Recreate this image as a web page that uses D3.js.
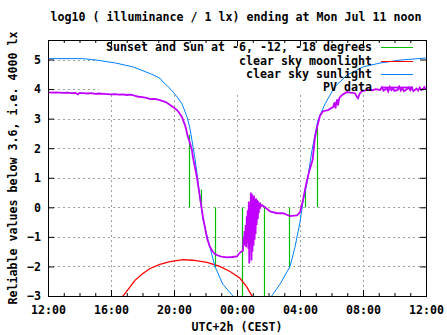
<!DOCTYPE html>
<html>
<head>
<meta charset="utf-8">
<script src="https://cdn.jsdelivr.net/npm/d3@7"></script>
<style>
  html, body { margin: 0; padding: 0; background: #fff; }
  svg text { font-family: "DejaVu Sans Mono", "Liberation Mono", monospace; font-weight: bold; font-size: 12px; fill: #000; }
</style>
</head>
<body>
<svg id="chart" width="447" height="335"></svg>
<script>
// ---------- data ----------
const titleText = "log10 ( illuminance / 1 lx) ending at Mon Jul 11 noon";
const yLabelText = "Reliable values below 3.6, i.e. 4000 lx";
const xLabelText = "UTC+2h (CEST)";

// hours after Sun Jul 10 12:00 (CEST)
const xTickHours = [0, 4, 8, 12, 16, 20, 24];
const xTickLabels = ["12:00", "16:00", "20:00", "00:00", "04:00", "08:00", "12:00"];
const yTicks = [-3, -2, -1, 0, 1, 2, 3, 4, 5];

const seriesNames = ["Sunset and Sun at -6, -12, -18 degrees", "clear sky moonlight", "clear sky sunlight", "PV data"];

// Sunset / sun-altitude markers: time and the level the line reaches (from 0)
const eventHours = [8.97, 9.70, 10.62, 12.34, 13.73, 15.32, 16.32, 17.05];
const eventTops  = [2.45, 0.6, -2.03, -3.5, -3.5, -2.03, 0.6, 2.68];

const moonHours  = [4.5, 4.76, 5.2, 5.52, 6.0, 6.48, 7.1, 7.75, 8.57, 9.2, 10.1, 10.9, 11.56, 12.19, 12.63, 12.95, 13.2];
const moonValues = [-3.3, -3.0, -2.7, -2.47, -2.25, -2.07, -1.93, -1.84, -1.77, -1.79, -1.86, -2.0, -2.17, -2.4, -2.7, -3.0, -3.3];

const sunHours  = [0, 2.2, 3.1, 4.3, 5.4, 6.5, 7.1, 7.3, 7.6, 7.94, 8.25, 8.51, 8.83, 9.0, 9.14, 9.33, 9.46, 9.65, 9.84, 10.16, 10.6, 11.1, 11.5, 11.75, 12.1,
                   13.9, 14.2, 14.73, 15.37, 15.68, 16.0, 16.19, 16.44, 16.76, 17.14, 17.59, 18.2, 18.98, 20.0, 21.08, 22.35, 24];
const sunValues = [5.03, 5.03, 4.98, 4.88, 4.75, 4.52, 4.37, 4.24, 4.1, 3.9, 3.7, 3.5, 3.05, 2.7, 2.27, 1.66, 1.15, 0.3, -0.4, -1.1, -2.0, -2.6, -2.85, -3.0, -3.4,
                   -3.4, -3.0, -2.6, -2.0, -1.35, -0.5, 0.2, 0.8, 1.93, 2.95, 3.5, 4.07, 4.47, 4.75, 4.88, 4.98, 5.05];

const pvHours = [0, 0.25, 0.5, 0.75, 1.0, 1.25, 1.5, 1.75, 1.9, 2.0, 2.25, 2.5, 2.75, 3.0, 3.25, 3.5, 3.75, 4.0, 4.25, 4.5, 4.75, 5.0, 5.25, 5.5, 5.75,
  6.0, 6.25, 6.5, 6.75, 7.0, 7.25, 7.5, 7.75, 8.0, 8.19, 8.35, 8.51, 8.7, 8.89, 9.0, 9.14, 9.2, 9.33, 9.46, 9.65, 9.84, 10.1, 10.25, 10.41, 10.6, 10.79,
  11.0, 11.37, 11.7, 12.0, 12.19, 12.38,
  12.42, 12.45, 12.48, 12.52, 12.55, 12.58, 12.62, 12.65, 12.68, 12.72, 12.75, 12.78, 12.82, 12.85, 12.88, 12.92, 12.95, 12.98, 13.02, 13.05, 13.08,
  13.12, 13.15, 13.18, 13.22, 13.25, 13.28, 13.32, 13.35, 13.38, 13.42, 13.45, 13.5, 13.55,
  13.59, 13.78, 14.1, 14.54, 14.92, 15.2, 15.37, 15.6, 15.81, 16.0, 16.19, 16.32, 16.44, 16.6, 16.8, 16.95, 17.08, 17.27, 17.46, 17.78, 18.1, 18.2,
  18.25, 18.35, 18.41, 18.5, 18.67, 18.98, 19.2, 19.49, 19.6, 19.68, 19.8, 19.94, 20.1, 20.32, 20.6, 20.8, 21.08, 21.2, 21.3, 21.52, 21.6, 21.7,
  21.8, 21.9, 22.0, 22.2, 22.3, 22.4, 22.5, 22.6, 22.8, 22.9, 23.0, 23.1, 23.2, 23.4, 23.5, 23.6, 23.7, 23.8, 23.9, 24.0];
const pvValues = [3.89, 3.88, 3.89, 3.88, 3.87, 3.88, 3.86, 3.87, 3.82, 3.87, 3.86, 3.85, 3.86, 3.84, 3.85, 3.84, 3.83, 3.82, 3.83, 3.81, 3.82, 3.80, 3.81, 3.78, 3.74,
  3.73, 3.70, 3.66, 3.67, 3.64, 3.60, 3.55, 3.46, 3.37, 3.29, 3.18, 3.05, 2.78, 2.37, 2.2, 1.93, 1.7, 1.35, 1.0, 0.34, -0.34, -1.05, -1.3, -1.46, -1.58, -1.63,
  -1.67, -1.69, -1.68, -1.66, -1.53, -1.46,
  -1.0, -1.3, -0.8, -1.25, -0.6, -1.35, -0.3, -1.2, -0.1, -1.4, 0.2, -1.9, 0.0, -1.1, 0.5, -1.8, 0.45, -1.5, 0.35, -1.3, 0.4,
  -1.1, 0.3, -0.9, 0.3, -0.6, 0.25, -0.4, 0.2, -0.2, 0.15, -0.05, 0.1, 0.05,
  0.07, 0.0, -0.14, -0.2, -0.2, -0.26, -0.3, -0.28, -0.27, -0.17, 0.24, 0.6, 0.9, 1.25, 1.6, 2.37, 2.7, 3.1, 3.25, 3.29, 3.39, 3.55,
  3.35, 3.65, 3.45, 3.7, 3.8, 3.9, 3.88, 3.86, 3.75, 3.69, 3.85, 3.93, 3.95, 3.97, 3.96, 4.0, 3.97, 4.06, 3.95, 4.03, 3.92, 4.07,
  3.96, 4.02, 3.94, 3.97, 4.08, 3.95, 4.03, 3.93, 4.0, 4.06, 3.96, 4.04, 3.93, 4.02, 3.95, 4.05, 3.97, 4.0, 4.07, 3.98];

// ---------- layout ----------
const svg = d3.select("#chart");
const L = 48, R = 426, T = 40, B = 296;
const x = d3.scaleLinear().domain([0, 24]).range([L, R]);
const y = d3.scaleLinear().domain([-3, 5.66]).range([B, T]);
const colors = { sun: "#0080ff", moon: "#ff0000", event: "#00c000", pv: "#c000ff", grid: "#a0a0a0" };

svg.append("defs").append("clipPath").attr("id", "clip")
  .append("rect").attr("x", L).attr("y", T).attr("width", R - L).attr("height", B - T);

// grid
const grid = svg.append("g").attr("stroke", colors.grid).attr("stroke-width", 1).attr("stroke-dasharray", "2,3");
grid.selectAll("line.gx").data(xTickHours.slice(1, -1)).join("line")
  .attr("x1", d => Math.round(x(d)) + 0.5).attr("x2", d => Math.round(x(d)) + 0.5).attr("y1", T).attr("y2", B);
grid.selectAll("line.gy").data(yTicks.slice(1)).join("line")
  .attr("x1", L).attr("x2", R).attr("y1", d => Math.round(y(d)) + 0.5).attr("y2", d => Math.round(y(d)) + 0.5);

// opaque key area
svg.append("rect").attr("x", 99).attr("y", T + 1).attr("width", R - 99 - 1).attr("height", 51).attr("fill", "#fff");

const plot = svg.append("g").attr("clip-path", "url(#clip)");
const line = d3.line().x(d => x(d[0])).y(d => y(d[1]));

// events (green)
plot.selectAll("line.ev").data(d3.zip(eventHours, eventTops)).join("line")
  .attr("x1", d => Math.round(x(d[0])) + 0.5).attr("x2", d => Math.round(x(d[0])) + 0.5).attr("y1", y(0)).attr("y2", d => y(d[1]))
  .attr("stroke", colors.event).attr("stroke-width", 1.2);

plot.append("path").datum(d3.zip(moonHours, moonValues)).attr("d", line)
  .attr("fill", "none").attr("stroke", colors.moon).attr("stroke-width", 1.3);
plot.append("path").datum(d3.zip(sunHours, sunValues)).attr("d", line)
  .attr("fill", "none").attr("stroke", colors.sun).attr("stroke-width", 1);
plot.append("path").datum(d3.zip(pvHours, pvValues)).attr("d", line)
  .attr("fill", "none").attr("stroke", colors.pv).attr("stroke-width", 1.8).attr("stroke-linejoin", "miter");

// axes
const minorHours = d3.range(0, 25, 1);
function styleAxis(g) { g.select(".domain").remove(); g.selectAll("line").attr("stroke", "#000"); g.selectAll("text").attr("font-size", null).attr("font-family", null); }

svg.append("g").attr("transform", `translate(0,${B})`)
  .call(d3.axisBottom(x).tickValues(minorHours).tickSize(-3).tickFormat("")).call(styleAxis);
svg.append("g").attr("transform", `translate(0,${T})`)
  .call(d3.axisTop(x).tickValues(minorHours).tickSize(-3).tickFormat("")).call(styleAxis);
svg.append("g").attr("transform", `translate(0,${B})`)
  .call(d3.axisBottom(x).tickValues(xTickHours).tickSize(-6).tickPadding(9).tickFormat((d, i) => xTickLabels[i])).call(styleAxis);
svg.append("g").attr("transform", `translate(0,${T})`)
  .call(d3.axisTop(x).tickValues(xTickHours).tickSize(-6).tickFormat("")).call(styleAxis);
svg.append("g").attr("transform", `translate(${L},0)`)
  .call(d3.axisLeft(y).tickValues(yTicks).tickSize(-6).tickPadding(7).tickFormat(d3.format("d"))).call(styleAxis);
svg.append("g").attr("transform", `translate(${R},0)`)
  .call(d3.axisRight(y).tickValues(yTicks).tickSize(-6).tickFormat("")).call(styleAxis);

svg.selectAll(".tick text").attr("textLength", function () { return this.textContent.length * 7; }).attr("lengthAdjust", "spacingAndGlyphs");

svg.append("rect").attr("x", L + 0.5).attr("y", T + 0.5).attr("width", R - L).attr("height", B - T)
  .attr("fill", "none").attr("stroke", "#000").attr("stroke-width", 1);

// titles
function txt(s, px, py, anchor, rot) {
  const t = svg.append("text").attr("x", px).attr("y", py).attr("text-anchor", anchor)
    .attr("textLength", s.length * 7).attr("lengthAdjust", "spacingAndGlyphs").text(s);
  if (rot) t.attr("transform", `rotate(-90,${px},${py})`);
  return t;
}
txt(titleText, 236, 21, "middle");
txt(xLabelText, 237, 331, "middle");
txt(yLabelText, 17, 168, "middle", true);

// legend
const keyColors = [colors.event, colors.moon, colors.sun, colors.pv];
const keyY = [47, 60.5, 73.5, 87];
seriesNames.forEach((n, i) => {
  txt(n, 372, keyY[i] + 4, "end");
  svg.append("line").attr("x1", 381).attr("x2", 413).attr("y1", Math.round(keyY[i]) + 0.5).attr("y2", Math.round(keyY[i]) + 0.5)
    .attr("stroke", keyColors[i]).attr("stroke-width", i === 3 ? 1.8 : 1);
});
</script>
</body>
</html>
